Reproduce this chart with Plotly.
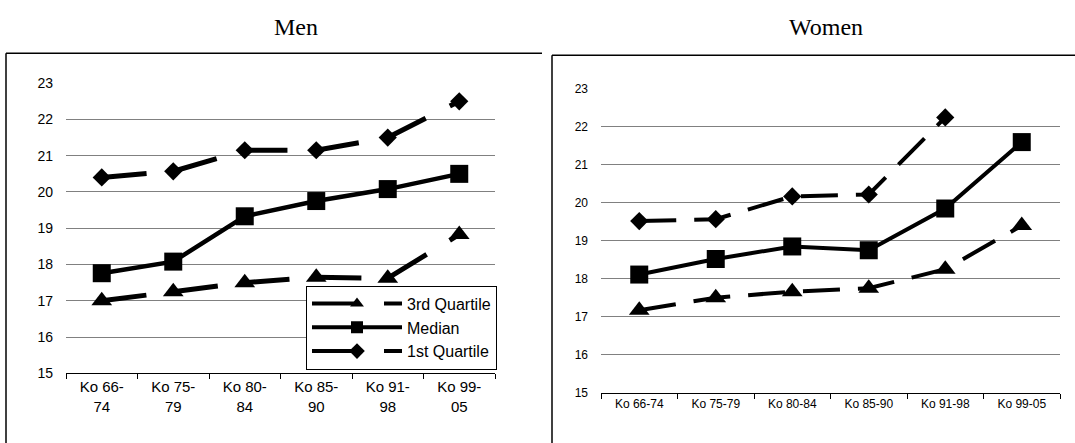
import plotly.graph_objects as go

W, H = 1075, 443

categories = ["Ko 66-74", "Ko 75-79", "Ko 80-84", "Ko 85-90", "Ko 91-98", "Ko 99-05"]
men_tick_labels = ["Ko 66-<br>74", "Ko 75-<br>79", "Ko 80-<br>84", "Ko 85-<br>90", "Ko 91-<br>98", "Ko 99-<br>05"]
women_tick_labels = ["Ko 66-74", "Ko 75-79", "Ko 80-84", "Ko 85-90", "Ko 91-98", "Ko 99-05"]

men_q3 = [17.0, 17.25, 17.5, 17.65, 17.62, 18.83]
men_median = [17.76, 18.08, 19.33, 19.75, 20.08, 20.5]
men_q1 = [20.4, 20.57, 21.15, 21.15, 21.5, 22.5]

women_q3 = [17.17, 17.5, 17.66, 17.75, 18.25, 19.4]
women_median = [18.11, 18.52, 18.85, 18.75, 19.85, 21.6]
women_q1 = [19.52, 19.57, 20.17, 20.22, 22.25, None]

series_names = ["3rd Quartile", "Median", "1st Quartile"]
y_ticks = [15, 16, 17, 18, 19, 20, 21, 22, 23]

def px_x(v):
    return v / W

def px_y(v):
    return 1 - v / H

fig = go.Figure()

symbols = {"3rd Quartile": "triangle-up", "Median": "square", "1st Quartile": "diamond"}
msize = {"3rd Quartile": 18, "Median": 18, "1st Quartile": 14}

def add_panel(data, xa, ya, dash, width_dash, width_solid, legend):
    for name, vals in zip(series_names, data):
        solid = name == "Median"
        fig.add_trace(go.Scatter(
            x=categories, y=vals, xaxis=xa, yaxis=ya, name=name,
            mode="lines+markers", showlegend=False, cliponaxis=False,
            connectgaps=False, hoverinfo="skip",
            line=dict(color="black", width=width_solid if solid else width_dash,
                      dash="solid" if solid else dash),
            marker=dict(symbol=symbols[name], size=msize[name], color="black"),
        ))
        if legend:
            fig.add_trace(go.Scatter(
                x=[categories[0]], y=[None], xaxis=xa, yaxis=ya, name=name,
                mode="lines+markers", showlegend=True,
                line=dict(color="black", width=4,
                          dash="solid" if solid else "45px,27px"),
                marker=dict(symbol=symbols[name], size=12, color="black"),
            ))

add_panel([men_q3, men_median, men_q1], "x", "y", "45px,27px", 5, 4.5, True)
add_panel([women_q3, women_median, women_q1], "x2", "y2", "37px,18px", 4, 4, False)

axis_common_y = dict(range=[15, 23], tickvals=y_ticks, showgrid=True, gridcolor="#808080",
                     gridwidth=1, showline=False, ticks="", zeroline=False,
                     ticklabelstandoff=12)
axis_common_x = dict(type="category", categoryorder="array", categoryarray=categories,
                     range=[-0.5, 5.5], showline=True, linecolor="black", linewidth=1,
                     ticks="outside", tickson="boundaries", ticklen=5, tickcolor="black",
                     showgrid=False, zeroline=False, tickmode="array", tickvals=categories)

fig.update_layout(
    width=W, height=H, margin=dict(l=0, r=0, t=0, b=0),
    paper_bgcolor="white", plot_bgcolor="white",
    font=dict(family="Liberation Sans, Arial, sans-serif", color="black"),
    xaxis=dict(domain=[px_x(66), px_x(495)], anchor="y", ticktext=men_tick_labels,
               tickfont=dict(size=15), **axis_common_x),
    yaxis=dict(domain=[px_y(379), px_y(78)], anchor="x", tickfont=dict(size=14), **axis_common_y),
    xaxis2=dict(domain=[px_x(601), px_x(1060)], anchor="y2", ticktext=women_tick_labels,
                tickfont=dict(size=12), **axis_common_x),
    yaxis2=dict(domain=[px_y(399), px_y(84)], anchor="x2", tickfont=dict(size=12), **axis_common_y),
    legend=dict(x=px_x(306), y=px_y(288), xanchor="left", yanchor="top",
                bgcolor="white", bordercolor="black", borderwidth=1,
                font=dict(size=16), itemwidth=90, tracegroupgap=0),
    showlegend=True,
    annotations=[
        dict(text="Men", x=px_x(296), y=px_y(20), xref="paper", yref="paper",
             xanchor="center", yanchor="middle",
             showarrow=False, font=dict(family="Liberation Serif, Times New Roman, serif", size=24)),
        dict(text="Women", x=px_x(826), y=px_y(20), xref="paper", yref="paper",
             xanchor="center", yanchor="middle",
             showarrow=False, font=dict(family="Liberation Serif, Times New Roman, serif", size=24)),
    ],
    shapes=[
        dict(type="line", xref="paper", yref="paper", x0=px_x(6), x1=px_x(542), y0=px_y(47), y1=px_y(47),
             line=dict(color="black", width=1.5)),
        dict(type="line", xref="paper", yref="paper", x0=px_x(6), x1=px_x(6), y0=px_y(47), y1=-0.05,
             line=dict(color="black", width=1.5)),
        dict(type="line", xref="paper", yref="paper", x0=px_x(552), x1=1.01, y0=px_y(49), y1=px_y(49),
             line=dict(color="black", width=1.5)),
        dict(type="line", xref="paper", yref="paper", x0=px_x(552), x1=px_x(552), y0=px_y(49), y1=-0.05,
             line=dict(color="black", width=1.5)),
    ],
)

post = (
    "document.documentElement.style.margin='0px';"
    "document.documentElement.style.overflow='hidden';"
    "document.body.style.margin='0px';"
    "document.body.style.overflow='hidden';"
)
fig.write_html("out.html", config={"displayModeBar": False}, post_script=post)
